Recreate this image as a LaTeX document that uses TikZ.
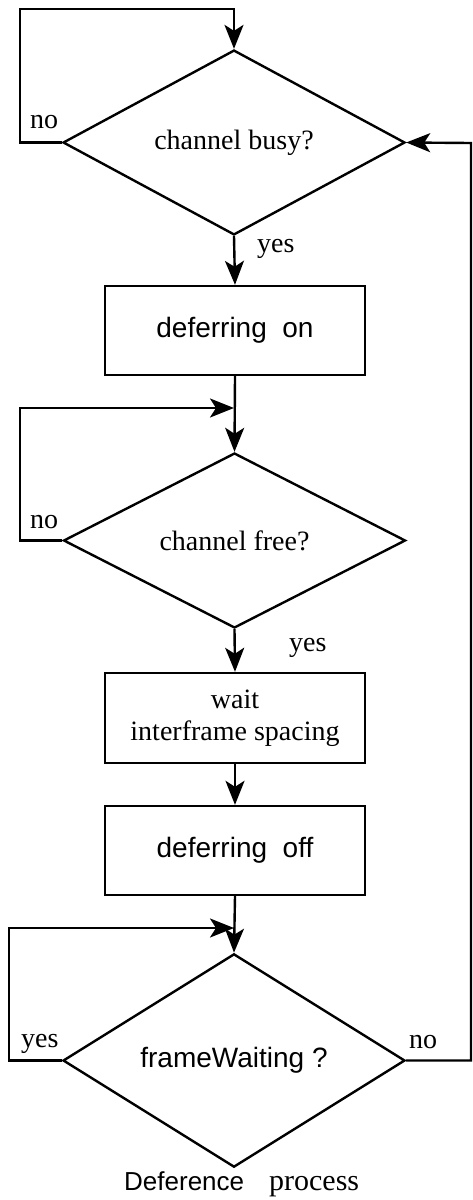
\documentclass[tikz,border=0pt]{standalone}
\usepackage{fontspec}
\setmainfont{Liberation Serif}
\setsansfont{Liberation Sans}
\usetikzlibrary{arrows.meta,shapes.geometric}

\begin{document}
\begin{tikzpicture}[x=1pt, y=-1pt, line width=2.4pt,
    every node/.style={font=\fontsize{28}{32}\selectfont},
    decision/.style={diamond, draw, inner sep=0pt, minimum width=342pt, minimum height=175pt},
    process/.style={rectangle, draw, inner sep=0pt, minimum width=260pt, minimum height=89pt, align=center},
    flow/.style={-{Stealth[length=24pt, width=19pt, inset=6pt]}},
    answer/.style={anchor=base west, inner sep=0pt}]
			%%%%% START %%%%%
			\useasboundingbox (0,0) rectangle (473,1200);

			% the six steps
			\node[decision] (dBusy) at (234, 142.5) {channel busy?};
			\node[process, font=\sffamily\fontsize{28}{32}\selectfont] (bOn) at (235, 330.5) {deferring\ \ on};
			\node[decision] (dFree) at (234.5, 540.5) {channel free?};
			\node[process, minimum height=90pt] (bWait) at (235, 718) {wait\\interframe spacing};
			\node[process, font=\sffamily\fontsize{28}{32}\selectfont] (bOff) at (235, 850.5) {deferring\ \ off};
			\node[decision, font=\sffamily\fontsize{28}{32}\selectfont] (dFrame) at (234, 1060.5) {frameWaiting ?};

			% corners of the loops
			\coordinate (busyTop) at (20, 9);
			\coordinate (freeTop) at (20, 408);
			\coordinate (freeJoin) at (234, 408);
			\coordinate (frameTop) at (9, 928);
			\coordinate (frameJoin) at (234, 928);
			\coordinate (backTop) at (471, 143);

			\draw[flow] (dBusy.west) -| (busyTop) -| (dBusy.north);
			\draw[flow] (dBusy.south) -- (bOn.north);
			\draw[flow] (bOn.south) -- (dFree.north);
			\draw[flow] (dFree.west) -| (freeTop) -- (freeJoin);
			\draw[flow] (dFree.south) -- (bWait.north);
			\draw[flow] (bWait.south) -- (bOff.north);
			\draw[flow] (bOff.south) -- (dFrame.north);
			\draw[flow] (dFrame.west) -| (frameTop) -- (frameJoin);
			\draw[flow] (dFrame.east) -| (backTop) -- (dBusy.east);

			% yes / no
			\node[answer] (noBusy) at (29, 128) {no};
			\node[answer] (yesBusy) at (256, 252) {yes};
			\node[answer] (noFree) at (29, 528) {no};
			\node[answer] (yesFree) at (288, 651) {yes};
			\node[answer] (yesFrame) at (20, 1047) {yes};
			\node[answer] (noFrame) at (408, 1048) {no};

			\node[anchor=base west, inner sep=0pt] (caption) at (123, 1190) {\sffamily\fontsize{26}{30}\selectfont Deference\hspace{25pt}\rmfamily\fontsize{30}{34}\selectfont process};
			%%%%% END %%%%%
\end{tikzpicture}
\end{document}
